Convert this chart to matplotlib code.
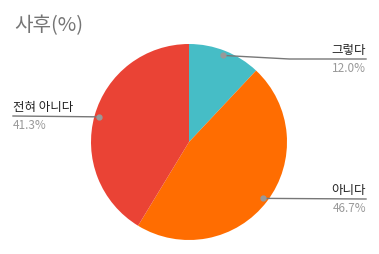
import numpy as np
import matplotlib
matplotlib.use("Agg")
import matplotlib.pyplot as plt

plt.rcParams["font.family"] = ["Noto Sans CJK KR", "DejaVu Sans"]

title = "사후(%)"
labels = ["그렇다", "아니다", "전혀 아니다"]
values = [12.0, 46.7, 41.3]
colors = ["#46BDC6", "#FF6D01", "#EA4335"]

W, H = 379, 255
fig = plt.figure(figsize=(W / 100, H / 100), dpi=100)
ax = fig.add_axes([0, 0, 1, 1])

# pixel coords (y down) -> data coords (y up)
cx, cy, R = 189, H - 143, 98
ax.pie(values, colors=colors, center=(cx, cy), radius=R, startangle=90,
       counterclock=False, wedgeprops=dict(linewidth=0), frame=True)
ax.set_xlim(0, W)
ax.set_ylim(0, H)
ax.set_aspect("equal")
ax.axis("off")

# label positions: (line end x, line y in pixels, alignment)
layout = [(366, 60, "right"), (366, 200, "right"), (13, 117, "left")]
cum = 0
for lab, v, (lx, ly, ha) in zip(labels, values, layout):
    mid = (cum + v / 2) / 100 * 2 * np.pi
    cum += v
    ly = H - ly
    px = cx + np.sin(mid) * R * 0.95
    py = cy + np.cos(mid) * R * 0.95
    if ha == "right" and abs(py - ly) > 2:
        bend = min(px + 66, 290)
        ax.plot([px, bend, lx], [py, ly, ly], color="#777777", lw=1)
    else:
        ax.plot([px, lx], [py, ly], color="#777777", lw=1)
    ax.plot(px, py, "o", color="#999999", ms=3.5)
    ax.text(lx, ly + 3, lab, ha=ha, va="bottom", fontsize=9, color="#222222")
    ax.text(lx, ly - 2, f"{v:.1f}%", ha=ha, va="top", fontsize=8.5, color="#999999")

ax.text(14, H - 26, title, ha="left", va="center", fontsize=14.5, color="#757575")

fig.savefig("out.png", dpi=100)
